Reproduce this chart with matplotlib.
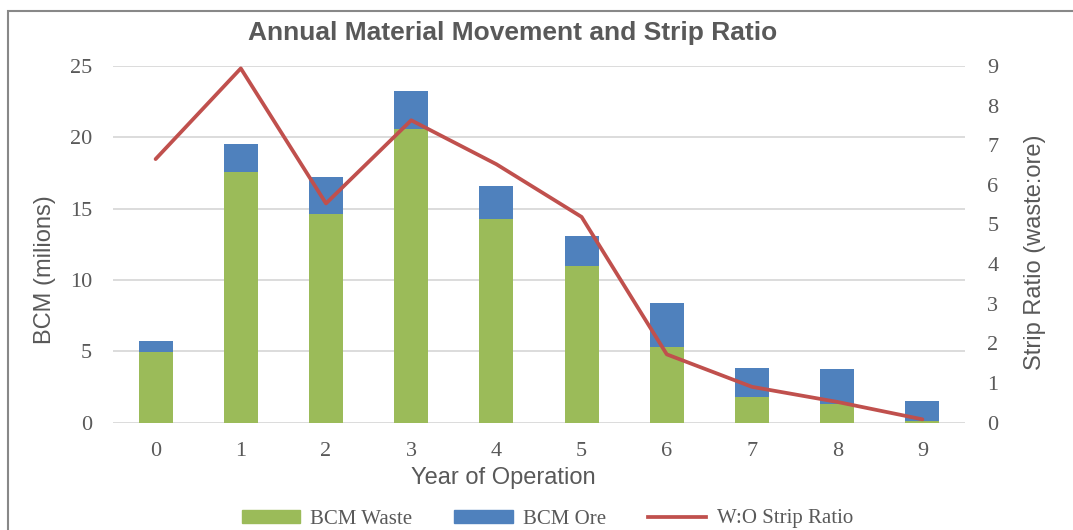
import matplotlib.pyplot as plt
from matplotlib.patches import Rectangle, Patch
from matplotlib.lines import Line2D

# --- Data ---
years = [0, 1, 2, 3, 4, 5, 6, 7, 8, 9]
bcm_waste = [4.95, 17.55, 14.6, 20.55, 14.3, 10.95, 5.3, 1.8, 1.3, 0.1]
bcm_ore = [0.75, 2.0, 2.6, 2.7, 2.25, 2.1, 3.05, 2.0, 2.45, 1.4]
strip_ratio = [6.65, 8.94, 5.53, 7.63, 6.52, 5.19, 1.72, 0.9, 0.52, 0.08]

green = '#9bbb59'
blue = '#4f81bd'
red = '#c0504d'
gray = '#595959'
serif = 'Liberation Serif'
sans = 'Liberation Sans'
W, H = 1073, 530

fig = plt.figure(figsize=(W / 100, H / 100), dpi=100)
ax = fig.add_axes([113 / W, 1 - 422.5 / H, 852 / W, 356.5 / H])
ax2 = ax.twinx()

# --- Bars ---
ax.bar(years, bcm_waste, width=0.4, color=green, zorder=2)
ax.bar(years, bcm_ore, width=0.4, bottom=bcm_waste, color=blue, zorder=2)
ax.set_xlim(-0.5, 9.5)
ax.set_ylim(0, 25)
ax.set_yticks(range(0, 26, 5))
ax.set_xticks(years)
ax.grid(axis='y', color='#d9d9d9', linewidth=1.3, zorder=0)
ax.set_axisbelow(True)

# --- Line ---
ax2.plot(years, strip_ratio, color=red, linewidth=2.7, solid_capstyle='round', zorder=3)
ax2.set_ylim(0, 9)
ax2.set_yticks(range(0, 10))

for a in (ax, ax2):
    for s in a.spines.values():
        s.set_visible(False)
    a.tick_params(length=0, labelsize=16, labelcolor=gray)
    for lbl in a.get_xticklabels() + a.get_yticklabels():
        lbl.set_fontfamily(serif)
ax.tick_params(axis='y', pad=15)
ax2.tick_params(axis='y', pad=16)
ax.tick_params(axis='x', pad=14)

# axis titles
fig.text(503 / W, 1 - 478 / H, 'Year of Operation', ha='center', va='center',
         fontsize=17, color=gray, family=sans)
fig.text(45 / W, 1 - 270 / H, 'BCM (milions)', ha='center', va='center', rotation=90,
         fontsize=17, color=gray, family=sans)
fig.text(1035 / W, 1 - 252 / H, 'Strip Ratio (waste:ore)', ha='center', va='center', rotation=90,
         fontsize=17, color=gray, family=sans)

fig.text(513 / W, 1 - 33 / H, 'Annual Material Movement and Strip Ratio',
         ha='center', va='center', fontsize=19, fontweight='bold', color=gray, family=sans)

# --- Legend ---
handles = [Patch(color=green, label='BCM Waste'),
           Patch(color=blue, label='BCM Ore'),
           Line2D([0], [0], color=red, linewidth=2.7, label='W:O Strip Ratio')]
leg = fig.legend(handles=handles, loc='center', bbox_to_anchor=(0.51, 1 - 519 / H), ncol=3,
                 frameon=False, prop={'family': serif, 'size': 15}, handlelength=2.8,
                 handleheight=0.6, columnspacing=2.0, handletextpad=0.5)
for t in leg.get_texts():
    t.set_color(gray)

# --- Chart frame ---
fig.patches.append(Rectangle((8 / W, -0.1), 1.2, 1.1 - 10.5 / H, transform=fig.transFigure,
                             fill=False, edgecolor='#888888', linewidth=1.5, clip_on=False))

fig.savefig('out.png', dpi=100)
